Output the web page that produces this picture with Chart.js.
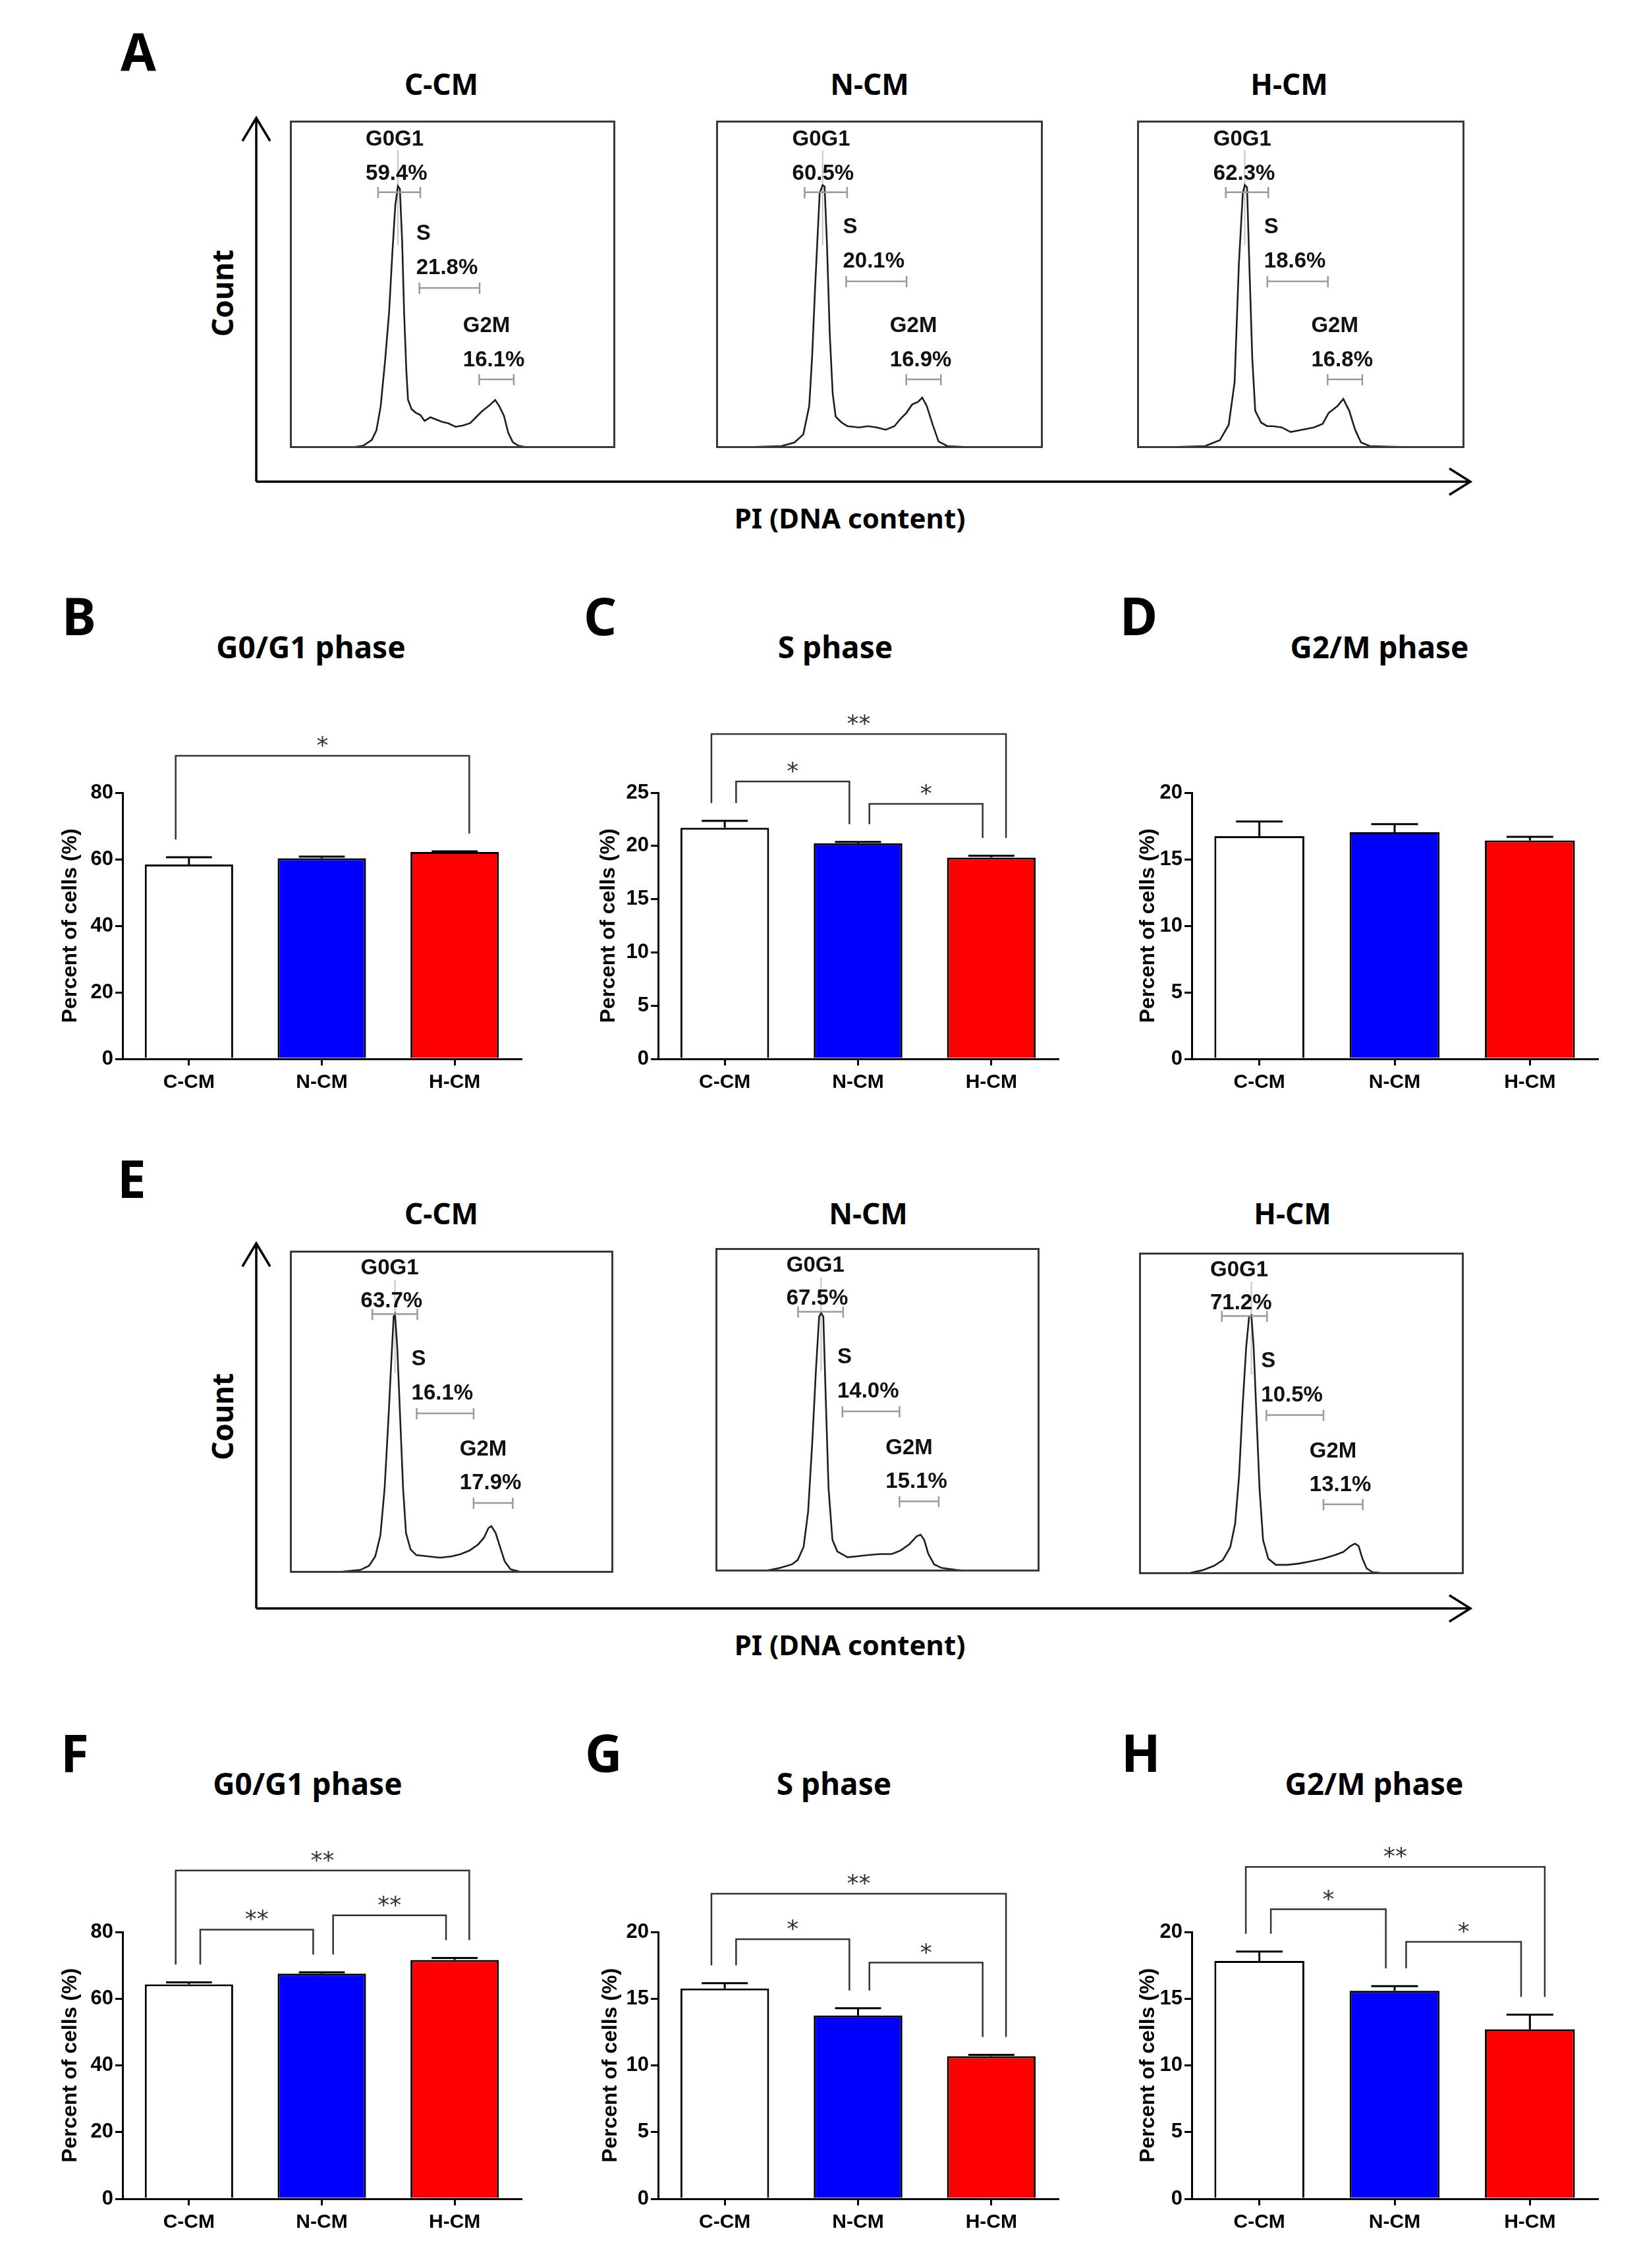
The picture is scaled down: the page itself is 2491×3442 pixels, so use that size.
<!DOCTYPE html>
<html>
<head>
<meta charset="utf-8">
<script src="https://cdn.jsdelivr.net/npm/chart.js@4.4.0/dist/chart.umd.min.js"></script>
<style>
  body { margin: 0; background: #fff; }
  #page { position: relative; width: 2491px; height: 3442px; background: #fff; overflow: hidden; }
  #page canvas { position: absolute; }
</style>
</head>
<body>
<div id="page">
<svg width="2491" height="3442" style="position:absolute;left:0;top:0">
  <g font-family="Noto Sans, sans-serif" font-weight="700" fill="#000">
    <!-- panel letters -->
    <text x="183" y="107" font-size="78">A</text>
    <text x="94" y="964" font-size="78">B</text>
    <text x="886" y="964" font-size="78">C</text>
    <text x="1700" y="964" font-size="78">D</text>
    <text x="178" y="1818" font-size="78">E</text>
    <text x="92" y="2689" font-size="78">F</text>
    <text x="888" y="2689" font-size="78">G</text>
    <text x="1702" y="2689" font-size="78">H</text>
    <!-- histogram group titles -->
    <text x="670" y="144" font-size="44" text-anchor="middle">C-CM</text>
    <text x="1320" y="144" font-size="44" text-anchor="middle">N-CM</text>
    <text x="1957" y="144" font-size="44" text-anchor="middle">H-CM</text>
    <text x="670" y="1858" font-size="44" text-anchor="middle">C-CM</text>
    <text x="1318" y="1858" font-size="44" text-anchor="middle">N-CM</text>
    <text x="1962" y="1858" font-size="44" text-anchor="middle">H-CM</text>
    <!-- bar panel titles -->
    <text x="472" y="999" font-size="46" text-anchor="middle">G0/G1 phase</text>
    <text x="1268" y="999" font-size="46" text-anchor="middle">S phase</text>
    <text x="2094" y="999" font-size="46" text-anchor="middle">G2/M phase</text>
    <text x="467" y="2724" font-size="46" text-anchor="middle">G0/G1 phase</text>
    <text x="1266" y="2724" font-size="46" text-anchor="middle">S phase</text>
    <text x="2086" y="2724" font-size="46" text-anchor="middle">G2/M phase</text>
    <!-- flow axes labels -->
    <text transform="translate(337,445) rotate(-90)" font-size="44" text-anchor="middle" dominant-baseline="central">Count</text>
    <text x="1290" y="802" font-size="42" text-anchor="middle">PI (DNA content)</text>
    <text transform="translate(337,2150) rotate(-90)" font-size="44" text-anchor="middle" dominant-baseline="central">Count</text>
    <text x="1290" y="2512" font-size="42" text-anchor="middle">PI (DNA content)</text>
  </g>
  <g stroke="#000" stroke-width="3.5" fill="none" stroke-linejoin="miter">
    <path d="M389 731 V180 M368 214 L389 179 L410 214"/>
    <path d="M389 731 H2230 M2200 711 L2232 731 L2200 751"/>
    <path d="M389 2441 V1888 M368 1922 L389 1887 L410 1922"/>
    <path d="M389 2441 H2230 M2200 2421 L2232 2441 L2200 2461"/>
  </g>
</svg>
</div>

<script>
const groups = ["C-CM", "N-CM", "H-CM"];
const fills = ["#ffffff", "#0000ff", "#ff0000"];

// flow histograms, [PI position (% of range), count (% of frame height)]
const histA_C = [[0,0],[18.9,0.2],[22.5,0.7],[25.2,2.5],[26.6,5.4],[27.9,12.7],[29.3,27.1],[30.5,41.6],[31.5,59.7],[32.4,74.1],[33.2,80.0],[33.8,79.2],[34.5,63.3],[35.1,41.6],[35.8,23.5],[36.3,14.8],[37.4,11.9],[38.7,10.8],[40.1,10.1],[41.4,8.3],[43.2,9.4],[45.0,8.7],[46.8,8.0],[48.6,7.6],[50.9,6.5],[53.2,6.9],[55.4,7.6],[57.2,9.4],[59.0,11.2],[61.3,13.0],[63.1,14.7],[64.4,12.7],[65.8,9.8],[67.1,4.7],[68.5,1.8],[70.3,0.7],[73.0,0.2],[79.7,0.1],[100,0]];
const histA_N = [[0,0],[20.0,0.6],[24.0,1.7],[26.7,4.2],[28.5,12.8],[29.4,28.0],[30.3,48.9],[31.7,77.8],[32.6,80.3],[33.2,79.9],[33.9,63.3],[34.8,34.5],[35.7,16.5],[36.6,9.6],[38.4,7.8],[40.2,6.7],[43.8,6.3],[46.5,6.7],[49.2,6.3],[51.9,5.6],[54.6,6.7],[56.4,8.9],[58.2,10.7],[60.0,13.3],[61.8,14.1],[63.1,15.4],[64.5,12.8],[66.3,7.1],[68.1,2.0],[70.8,0.6],[78.9,0.2],[100,0]];
const histA_H = [[0,0],[20.8,0.6],[25.3,2.4],[28.0,7.1],[29.8,20.1],[31.1,56.1],[32.3,77.8],[32.9,80.3],[33.6,79.6],[34.3,56.1],[35.2,27.3],[36.1,11.4],[37.9,7.8],[39.7,6.7],[41.5,6.7],[44.2,6.3],[46.9,4.9],[50.4,5.6],[54.0,6.3],[56.7,7.4],[58.5,10.7],[61.2,12.8],[63.0,15.0],[64.8,11.4],[66.6,5.6],[68.4,1.7],[71.1,0.6],[78.3,0.4],[100,0]];
const histE_C = [[0,0],[16.4,0.4],[21.8,0.9],[24.5,2.2],[26.4,5.1],[28.0,11.7],[29.3,26.3],[30.5,48.2],[31.4,66.4],[32.1,79.6],[32.5,80.3],[33.2,70.1],[34.1,48.2],[35.0,26.3],[35.9,12.4],[37.3,7.3],[39.1,5.5],[42.7,5.1],[46.4,4.7],[50.0,5.1],[52.7,5.8],[55.5,6.9],[58.2,8.8],[60.0,10.9],[61.4,13.9],[62.3,14.5],[63.6,12.4],[65.0,8.0],[66.4,3.6],[68.2,1.1],[70.9,0.4],[79.1,0.2],[100,0]];
const histE_N = [[0,0],[15.4,0.2],[19.9,1.1],[23.6,2.2],[25.4,3.6],[27.2,7.6],[28.6,18.5],[29.9,40.3],[31.0,62.1],[32.0,78.8],[32.6,79.9],[33.3,78.8],[34.0,54.8],[34.9,25.8],[36.1,9.8],[37.6,6.2],[40.8,4.4],[43.5,4.7],[47.1,5.1],[50.8,5.4],[54.4,5.4],[57.1,6.5],[59.8,8.4],[62.1,10.9],[63.3,11.4],[64.4,9.8],[65.7,5.4],[67.5,2.2],[69.8,1.1],[74.3,0.5],[78.0,0.2],[100,0]];
const histE_H = [[0,0],[14.9,0.2],[19.5,1.2],[23.1,2.6],[25.8,4.4],[28.1,8.4],[29.6,15.7],[30.8,30.4],[31.9,52.3],[33.0,70.6],[33.9,80.1],[34.6,80.5],[35.3,70.6],[36.2,48.6],[37.1,26.7],[38.2,10.6],[39.8,4.8],[42.1,2.9],[45.7,2.9],[49.3,3.3],[52.9,4.0],[56.6,4.8],[60.2,5.9],[62.9,6.9],[65.2,8.8],[66.5,9.5],[67.6,8.8],[68.8,4.8],[70.1,1.8],[71.9,0.6],[76.5,0.2],[100,0]];

// gated percentages shown on the histograms
const g0g1A = [59.4, 60.5, 62.3];
const sA = [21.8, 20.1, 18.6];
const g2mA = [16.1, 16.9, 16.8];
const g0g1E = [63.7, 67.5, 71.2];
const sE = [16.1, 14.0, 10.5];
const g2mE = [17.9, 15.1, 13.1];

// bar panels: mean and SEM (percent of cells)
const meanB = [58.4, 60.3, 62.2], semB = [2.2, 0.5, 0.2];
const meanC = [21.7, 20.25, 18.9], semC = [0.65, 0.12, 0.17];
const meanD = [16.73, 17.03, 16.41], semD = [1.1, 0.6, 0.27];
const meanF = [64.3, 67.5, 71.6], semF = [0.6, 0.4, 0.6];
const meanG = [15.76, 13.74, 10.69], semG = [0.4, 0.55, 0.1];
const meanH = [17.83, 15.59, 12.7], semH = [0.7, 0.35, 1.1];

// significance: [from, to, label, bracket level]
const sigB = [[0, 2, "*", 91.1]];
const sigC = [[0, 1, "*", 26.05], [1, 2, "*", 23.95], [0, 2, "**", 30.5]];
const sigD = [];
const sigF = [[0, 1, "**", 80.7], [1, 2, "**", 85.0], [0, 2, "**", 98.4]];
const sigG = [[0, 1, "*", 19.46], [1, 2, "*", 17.7], [0, 2, "**", 22.86]];
const sigH = [[0, 1, "*", 21.7], [1, 2, "*", 19.26], [0, 2, "**", 24.88]];

const page = document.getElementById("page");

function makeCanvas(left, top, w, h) {
  const cv = document.createElement("canvas");
  cv.width = w; cv.height = h;
  cv.style.left = left + "px"; cv.style.top = top + "px";
  cv.style.width = w + "px"; cv.style.height = h + "px";
  page.appendChild(cv);
  return cv;
}

// ---------- flow histograms ----------
const flowPlugin = {
  id: "flow",
  beforeDatasetsDraw(chart, args, o) {
    const { ctx, scales: { x, y } } = chart;
    const pts = chart.data.datasets[0].data;
    const peak = pts.reduce((a, b) => (b.y > a.y ? b : a));
    ctx.save();
    ctx.strokeStyle = "#c4c4c4";
    ctx.lineWidth = 2;
    ctx.beginPath();
    ctx.moveTo(x.getPixelForValue(peak.x), y.getPixelForValue(91));
    ctx.lineTo(x.getPixelForValue(peak.x), y.getPixelForValue(62));
    ctx.stroke();
    ctx.restore();
  },
  afterDatasetsDraw(chart, args, o) {
    const { ctx, chartArea: a, scales: { x, y } } = chart;
    ctx.save();
    ctx.strokeStyle = "#9a9a9a";
    ctx.lineWidth = 2.5;
    o.gates.forEach(([x0, x1, gy]) => {
      const p0 = x.getPixelForValue(x0), p1 = x.getPixelForValue(x1), py = y.getPixelForValue(gy);
      ctx.beginPath();
      ctx.moveTo(p0, py); ctx.lineTo(p1, py);
      ctx.moveTo(p0, py - 8); ctx.lineTo(p0, py + 9);
      ctx.moveTo(p1, py - 8); ctx.lineTo(p1, py + 9);
      ctx.stroke();
    });
    ctx.fillStyle = "#111";
    ctx.font = 'bold 33px "Liberation Sans", Arial, sans-serif';
    ctx.textBaseline = "alphabetic";
    ctx.textAlign = "left";
    o.texts.forEach(([t, tx, ty]) => ctx.fillText(t, x.getPixelForValue(tx), y.getPixelForValue(ty)));
    ctx.strokeStyle = "#3a3a3a";
    ctx.lineWidth = 3;
    ctx.strokeRect(a.left + 1.5, a.top + 1.5, a.width - 3, a.height - 3);
    ctx.restore();
  }
};

function flowRow(boxes, hists, pG0, pS, pG2, L) {
  boxes.forEach(([bx, by, bw, bh], k) => {
    const cv = makeCanvas(bx, by, bw, bh);
    const sy = L.sShift[k];
    const pct = v => v.toFixed(1) + "%";
    new Chart(cv, {
      type: "scatter",
      data: {
        datasets: [{
          data: hists[k].map(([px, c]) => ({ x: px, y: c })),
          showLine: true,
          borderColor: "#1e1e1e",
          borderWidth: 2.6,
          pointRadius: 0,
          tension: 0
        }]
      },
      options: {
        responsive: false, animation: false, devicePixelRatio: 1,
        layout: { padding: 0 },
        plugins: {
          legend: { display: false }, tooltip: { enabled: false },
          flow: {
            gates: [L.g0Gate, [L.sGate[0], L.sGate[1], L.sGate[2] + sy], L.g2Gate],
            texts: [
              ["G0G1", L.g0[0], L.g0[1]], [pct(pG0[k]), L.g0[0], L.g0[2]],
              ["S", L.s[0], L.s[1] + sy], [pct(pS[k]), L.s[0], L.s[2] + sy],
              ["G2M", L.g2[0], L.g2[1]], [pct(pG2[k]), L.g2[0], L.g2[2]]
            ]
          }
        },
        scales: {
          x: { type: "linear", min: 0, max: 100, display: false },
          y: { type: "linear", min: 0, max: 100, display: false }
        }
      },
      plugins: [flowPlugin]
    });
  });
}

flowRow([[440, 183, 494, 497], [1087, 183, 496, 497], [1726, 183, 497, 497]],
  [histA_C, histA_N, histA_H], g0g1A, sA, g2mA,
  { g0: [23.3, 92.3, 81.9], g0Gate: [27.1, 40.1, 78.1],
    s: [38.8, 65.5, 55.1], sGate: [39.8, 58.3, 50.9], sShift: [-2.0, 0, 0],
    g2: [53.2, 35.5, 25.0], g2Gate: [58.2, 68.8, 21.0] });

flowRow([[440, 1898, 491, 489], [1086, 1894, 492, 491], [1729, 1901, 493, 488]],
  [histE_C, histE_N, histE_H], g0g1E, sE, g2mE,
  { g0: [21.9, 92.7, 82.4], g0Gate: [25.5, 39.4, 80.3],
    s: [37.6, 64.4, 53.7], sGate: [39.2, 56.8, 49.5], sShift: [0, 0, 0],
    g2: [52.5, 36.3, 25.9], g2Gate: [56.8, 68.9, 21.7] });

// ---------- bar charts ----------
const barPlugin = {
  id: "errSig",
  afterDatasetsDraw(chart, args, o) {
    const { ctx, scales: { x, y } } = chart;
    const bars = chart.getDatasetMeta(0).data;
    const topOf = i => y.getPixelForValue(o.mean[i] + o.sem[i]);
    ctx.save();
    ctx.strokeStyle = "#000";
    ctx.lineWidth = 3;
    o.mean.forEach((m, i) => {
      const bx = bars[i].x, half = bars[i].width * 0.26;
      const y0 = y.getPixelForValue(m), y1 = topOf(i);
      ctx.beginPath();
      ctx.moveTo(bx, y0); ctx.lineTo(bx, y1);
      ctx.moveTo(bx - half, y1); ctx.lineTo(bx + half, y1);
      ctx.stroke();
    });
    const cw = x.getPixelForValue(1) - x.getPixelForValue(0);
    ctx.strokeStyle = "#333";
    ctx.fillStyle = "#333";
    ctx.lineWidth = 2.5;
    ctx.font = '36px "DejaVu Sans", sans-serif';
    ctx.textAlign = "center";
    ctx.textBaseline = "alphabetic";
    o.sig.forEach(([i, j, lab, lvl]) => {
      const wide = j - i > 1;
      const xl = x.getPixelForValue(i) + (wide ? -0.1 : 0.085) * cw;
      const xr = x.getPixelForValue(j) + (wide ? 0.11 : -0.065) * cw;
      const yb = y.getPixelForValue(lvl);
      ctx.beginPath();
      ctx.moveTo(xl, topOf(i) - 27);
      ctx.lineTo(xl, yb);
      ctx.lineTo(xr, yb);
      ctx.lineTo(xr, topOf(j) - 27);
      ctx.stroke();
      ctx.fillText(lab, (xl + xr) / 2, yb - 4);
    });
    ctx.restore();
  }
};

function barPanel(p) {
  const W = Math.round(p.titleGap + 19);
  const padTop = 170, axisH = 80, padRight = 8;
  const w = W + (p.right - p.axisX) + padRight;
  const h = padTop + (p.zeroY - p.topY) + axisH;
  const cv = makeCanvas(p.axisX - W, p.topY - padTop, w, h);
  const tickFont = { family: '"Liberation Sans", Arial, sans-serif', size: 31, weight: "bold" };
  new Chart(cv, {
    type: "bar",
    data: {
      labels: groups,
      datasets: [{
        data: p.mean,
        backgroundColor: fills,
        borderColor: "#000",
        borderWidth: 3,
        barPercentage: 0.665,
        categoryPercentage: 1
      }]
    },
    options: {
      responsive: false, animation: false, devicePixelRatio: 1,
      layout: { padding: { top: padTop, right: padRight, left: 0, bottom: 0 } },
      plugins: {
        legend: { display: false }, tooltip: { enabled: false },
        errSig: { mean: p.mean, sem: p.sem, sig: p.sig }
      },
      scales: {
        x: {
          grid: { display: true, drawOnChartArea: false, offset: false, tickLength: 10, color: "#000", lineWidth: 3 },
          border: { display: true, color: "#000", width: 3 },
          ticks: { color: "#000", font: { ...tickFont, size: 30 }, padding: 8 },
          afterFit: s => { s.height = axisH; }
        },
        y: {
          min: 0, max: p.max,
          grid: { display: true, drawOnChartArea: false, tickLength: 11, color: "#000", lineWidth: 3 },
          border: { display: true, color: "#000", width: 3 },
          ticks: { stepSize: p.step, color: "#000", font: tickFont, padding: 3 },
          title: {
            display: true, text: "Percent of cells (%)", color: "#000", padding: 0,
            font: { family: '"Liberation Sans", Arial, sans-serif', size: 32, weight: "bold" }
          },
          afterFit: s => { s.width = W; }
        }
      }
    },
    plugins: [barPlugin]
  });
}

const cols = [{ axisX: 186, right: 791 }, { axisX: 999, right: 1606 }, { axisX: 1809, right: 2425 }];

barPanel({ ...cols[0], topY: 1203, zeroY: 1607, max: 80, step: 20, titleGap: 79, mean: meanB, sem: semB, sig: sigB });
barPanel({ ...cols[1], topY: 1203, zeroY: 1607, max: 25, step: 5, titleGap: 75, mean: meanC, sem: semC, sig: sigC });
barPanel({ ...cols[2], topY: 1203, zeroY: 1607, max: 20, step: 5, titleGap: 66, mean: meanD, sem: semD, sig: sigD });
barPanel({ ...cols[0], topY: 2932, zeroY: 3337, max: 80, step: 20, titleGap: 79, mean: meanF, sem: semF, sig: sigF });
barPanel({ ...cols[1], topY: 2932, zeroY: 3337, max: 20, step: 5, titleGap: 72, mean: meanG, sem: semG, sig: sigG });
barPanel({ ...cols[2], topY: 2932, zeroY: 3337, max: 20, step: 5, titleGap: 66, mean: meanH, sem: semH, sig: sigH });
</script>
</body>
</html>
